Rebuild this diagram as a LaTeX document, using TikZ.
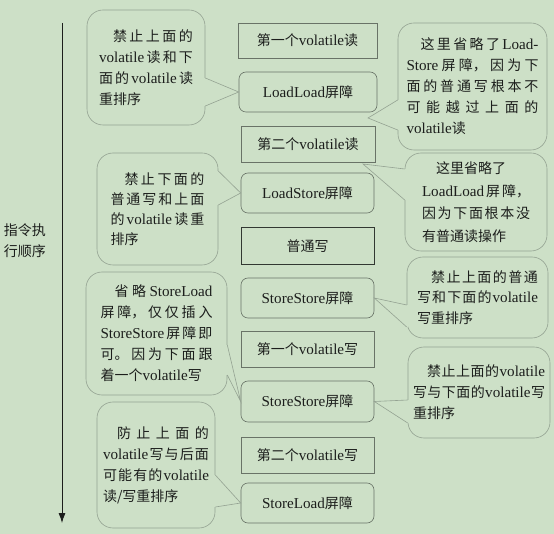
\documentclass[tikz,border=0pt]{standalone}
\usepackage{fontspec}
\setmainfont{Noto Sans CJK SC}
\newfontfamily\latf[Scale=1.08]{Liberation Serif}
\usetikzlibrary{arrows.meta}
\XeTeXlinebreaklocale "zh"
\XeTeXlinebreakskip=0pt plus 10pt
\tolerance=10000 \hbadness=10000 \hfuzz=4pt
\definecolor{bgc}{RGB}{205,224,199}
\definecolor{boxgray}{RGB}{105,115,103}
\definecolor{darkgray2}{RGB}{50,56,50}
\definecolor{callgray}{RGB}{148,162,146}
\definecolor{txt}{RGB}{28,30,28}
\newcommand\cjgl{\hskip 0pt plus 10pt\relax}
\newcommand\cjlat[1]{\cjgl{\latf #1}\cjgl}
\newcommand\cjvol{\cjlat{volatile}}
\newcommand\cjvn{{\latf volatile}}
\newcommand\cjptr[3]{\draw[bgc,line width=1.8pt] #1 -- #3; \draw[callline] #1 -- #2 -- #3;}
\tikzset{
  basefont/.style={font=\fontsize{14}{21}\selectfont, text=txt},
  sbox/.style={basefont, draw=boxgray, line width=0.6pt, inner sep=0pt, minimum width=133pt, minimum height=36pt},
  rbox/.style={sbox, rounded corners=7pt, minimum height=40pt},
  callout/.style={basefont, draw=callgray, line width=0.6pt, rounded corners=16pt, align=justify, inner sep=0pt},
  callline/.style={draw=callgray, line width=0.6pt, line join=miter},
  axisline/.style={draw=txt, line width=0.8pt, -{Latex[length=10pt,width=7pt]}}
}
\begin{document}
\begin{tikzpicture}[x=1pt,y=-1pt]
\path[use as bounding box, fill=bgc] (0,0) rectangle (554,534);
% axis
\coordinate (axtop) at (62,23);
\coordinate (axbot) at (62,523);
\draw[axisline] (axtop) -- (axbot);
\node[basefont, align=left, inner sep=0pt] (lbl) at (25,241) {指令执\\行顺序};
% middle column
\node[sbox, minimum width=139pt, minimum height=35pt] (b1) at (307.5,40.5) {第一个\cjvn 读};
\node[rbox, minimum width=138pt] (b2) at (308,92) {{\latf LoadLoad}屏障};
\node[sbox, minimum width=134pt] (b3) at (308,144) {第二个\cjvn 读};
\node[rbox] (b4) at (307.5,193) {{\latf LoadStore}屏障};
\node[sbox, draw=darkgray2, line width=1pt, minimum height=37pt] (b5) at (307.5,246.5) {普通写};
\node[rbox] (b6) at (307.5,298) {{\latf StoreStore}屏障};
\node[sbox] (b7) at (307.5,349) {第一个\cjvn 写};
\node[rbox, minimum height=41pt] (b8) at (307.5,401.5) {{\latf StoreStore}屏障};
\node[sbox] (b9) at (307.5,455) {第二个\cjvn 写};
\node[rbox] (b10) at (307.5,503) {{\latf StoreLoad}屏障};
\coordinate (p2) at (368,118);
\coordinate (p3) at (363,164);
% callouts
\node[callout, text width=94pt, minimum width=118pt, minimum height=115pt] (c1) at (146,67.5) {\hspace*{1em}禁止上面的\linebreak \cjvol 读和下\linebreak 面的\cjvol 读\linebreak 重排序};
\node[callout, text width=132pt, minimum width=149pt, minimum height=127pt] (c2) at (472.5,86.5) {\hspace*{1em}这里省略了\cjlat{Load-}\linebreak \cjlat{Store}屏障，因为下\linebreak 面的普通写根本不\linebreak 可能越过上面的\linebreak \cjvol 读};
\node[callout, font=\fontsize{14}{22.5}\selectfont, text width=108pt, minimum width=142pt, minimum height=98pt] (c3) at (476,202) {\hspace*{1em}这里省略了\newline \cjlat{LoadLoad}屏障，\linebreak 因为下面根本没\linebreak 有普通读操作};
\node[callout, font=\fontsize{14}{20}\selectfont, text width=94pt, minimum width=121pt, minimum height=112pt] (c4) at (157.5,209) {\hspace*{1em}禁止下面的\linebreak 普通写和上面\linebreak 的\cjvol 读重\linebreak 排序};
\node[callout, font=\fontsize{14}{20.5}\selectfont, text width=121pt, minimum width=141pt, minimum height=81pt] (c5) at (477.5,297.5) {\hspace*{1em}禁止上面的普通\linebreak 写和下面的\cjvol\linebreak 写重排序};
\node[callout, text width=112pt, minimum width=141pt, minimum height=123pt] (c6) at (156.5,333.5) {\hspace*{1em}省略\cjlat{StoreLoad}\linebreak 屏障，仅仅插入\linebreak \cjlat{StoreStore}屏障即\linebreak 可。因为下面跟\linebreak 着一个\cjvol 写};
\node[callout, text width=106pt, minimum width=118pt, minimum height=126pt] (c7) at (156,465) {\hspace*{1em}防止上面的\linebreak \cjvol 写与后面\linebreak 可能有的\cjvol\linebreak 读/写重排序};
\node[callout, text width=132pt, minimum width=142pt, minimum height=91pt] (c8) at (479,392.5) {\hspace*{1em}禁止上面的\cjvol\linebreak 写与下面的\cjvol 写\linebreak 重排序};
% pointers
\cjptr{(c1.east |- 0,78)}{(b2.west)}{(c1.east |- 0,106)}
\cjptr{(c2.west |- 0,100)}{(p2)}{(c2.west |- 0,130)}
\cjptr{(c3.west |- 0,169)}{(p3)}{(c3.west |- 0,200)}
\cjptr{(c4.east |- 0,171)}{(b4.west)}{(c4.east |- 0,205)}
\cjptr{(c5.west |- 0,305)}{(b6.east)}{(c5.west |- 0,327)}
\cjptr{(c6.east |- 0,345)}{(b8.west)}{(c6.east |- 0,375)}
\cjptr{(c7.east |- 0,475)}{(b10.west)}{(c7.east |- 0,507)}
\cjptr{(c8.west |- 0,400)}{(b8.east)}{(c8.west |- 0,423)}
\end{tikzpicture}
\end{document}
